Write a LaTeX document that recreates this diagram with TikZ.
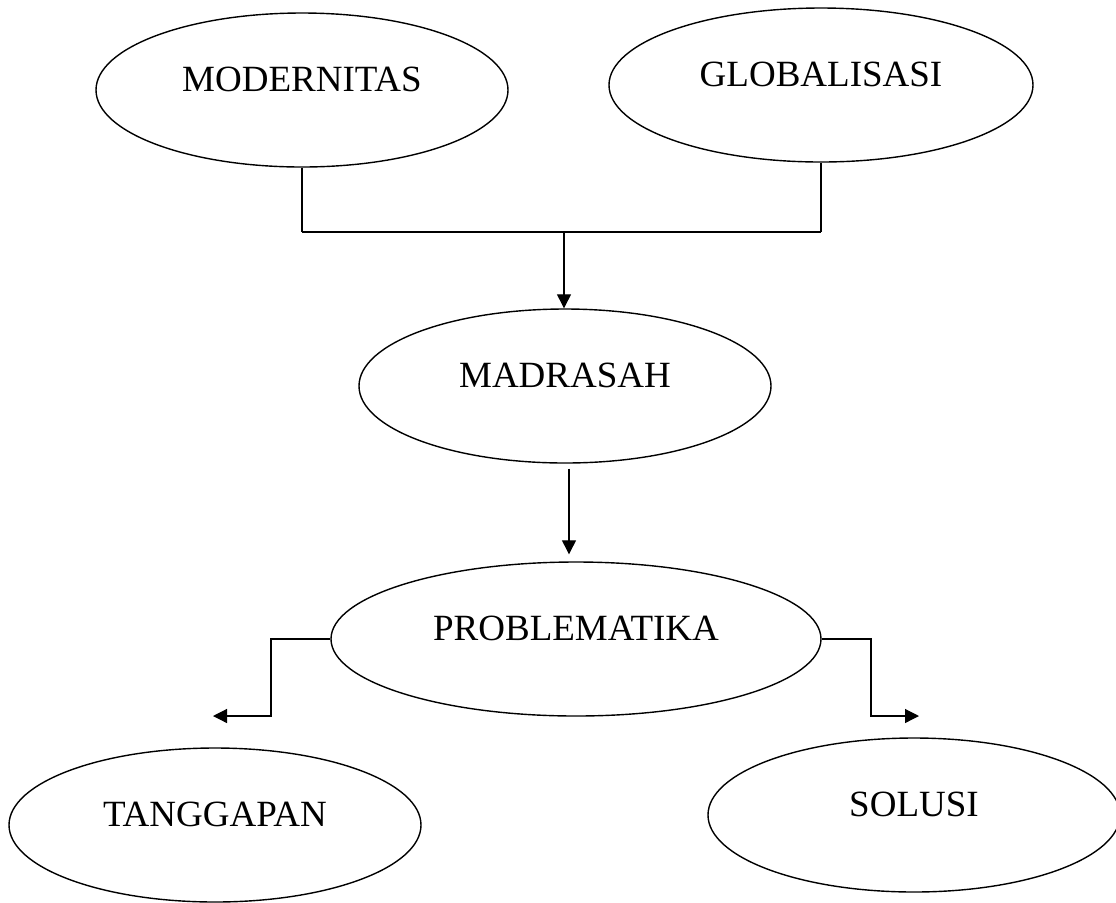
\documentclass[tikz,border=0pt]{standalone}
\usepackage{fontspec}
\setmainfont{Liberation Serif}
\usetikzlibrary{shapes.geometric,arrows.meta}
\tikzset{
  oval/.style={ellipse, draw, line width=0.7pt, minimum width=206pt, minimum height=77pt, inner sep=0pt},
  arr/.style={line width=0.6pt, -{Triangle[length=7pt,width=7pt]}}
}
\begin{document}
\begin{tikzpicture}[x=0.5pt, y=-0.5pt, font=\fontsize{18.5}{22}\selectfont]
  \useasboundingbox (0,0) rectangle (1116,902);
  \foreach \n/\x/\y/\w/\t in {
    mod/302/90/206/MODERNITAS, glob/821/85/212/GLOBALISASI,
    mad/565/386/206/MADRASAH, prob/576/639/245/PROBLEMATIKA,
    tang/215/825/206/TANGGAPAN, sol/914/815/206/SOLUSI} {
    \node[oval, minimum width=\w pt] (\n) at (\x,\y) {};
    \node (\n-t) at ([yshift=5.25pt]\n.center) {\t};
  }
  \coordinate (join) at (564,232);
  \draw[line width=0.6pt] (mod.south) -- (mod.south |- join);
  \draw[line width=0.6pt] (glob.south) -- (glob.south |- join);
  \draw[line width=1pt] (mod.south |- join) -- (glob.south |- join);
  \draw[arr] (join) -- (join |- mad.north);
  \draw[arr, shorten >=3.5pt] ([xshift=2pt,yshift=-2.5pt]mad.south) -- ([xshift=2pt]mad.south |- prob.north);
  \coordinate (lbend) at (271,716);
  \coordinate (lend) at (213,716);
  \coordinate (rbend) at (871,716);
  \coordinate (rend) at (919,716);
  \draw[arr] (prob.west) -| (lbend) -- (lend);
  \draw[arr] (prob.east) -| (rbend) -- (rend);
\end{tikzpicture}
\end{document}
